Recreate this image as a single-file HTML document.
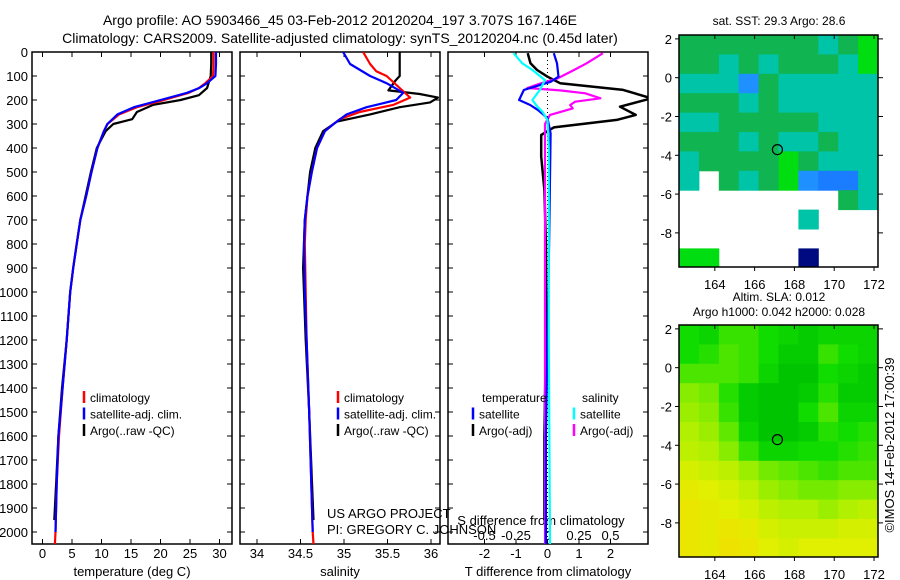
<!DOCTYPE html>
<html><head><meta charset="utf-8">
<style>
html,body{margin:0;padding:0;background:#fff;}
svg{display:block;font-family:"Liberation Sans",sans-serif;}
text{fill:#000;}
</style></head>
<body>
<svg id="fig" width="900" height="580" viewBox="0 0 900 580" xmlns="http://www.w3.org/2000/svg">
<defs>
<clipPath id="c1"><rect x="32" y="52" width="200" height="492"/></clipPath>
<clipPath id="c2"><rect x="240" y="52" width="200" height="492"/></clipPath>
<clipPath id="c3"><rect x="448" y="52" width="200" height="492"/></clipPath>
<clipPath id="cm1"><rect x="679" y="35" width="199" height="232"/></clipPath>
<clipPath id="cm2"><rect x="679" y="325" width="199" height="232"/></clipPath>
</defs>
<text x="340" y="25" font-size="14" text-anchor="middle">Argo profile: AO 5903466_45 03-Feb-2012 20120204_197 3.707S 167.146E</text>
<text x="340" y="43" font-size="14" text-anchor="middle">Climatology: CARS2009. Satellite-adjusted climatology: synTS_20120204.nc (0.45d later)</text>
<g id="layer"></g>
</svg>
<script>
// ---- profile data ----
const depthTClim = [0,50,100,130,150,170,200,230,260,300,330,400,500,600,700,800,900,1000,1200,1400,1600,1800,2000,2050];
const tempClim   = [29.0,29.0,28.9,27.6,26.5,24.8,20.6,16.0,13.0,11.0,10.4,9.3,8.3,7.4,6.4,5.8,5.2,4.7,4.1,3.4,2.8,2.4,2.2,2.1];
const depthTSat  = [0,50,100,130,150,170,200,230,260,300,330,400,500,600,700,800,900,1000,1200,1400,1600,1800,2000];
const tempSat    = [29.4,29.4,29.3,27.9,26.6,24.5,20.0,15.5,12.7,11.0,10.4,9.3,8.3,7.4,6.4,5.8,5.2,4.7,4.1,3.4,2.7,2.4,2.2];
const depthTArgo = [0,50,100,150,180,200,220,250,280,300,330,400,500,600,700,800,900,1000,1200,1400,1600,1800,1950];
const tempArgo   = [28.6,28.6,28.5,27.9,26.5,23.4,18.8,16.0,15.2,12.0,10.7,9.2,8.2,7.3,6.4,5.8,5.2,4.7,4.1,3.3,2.7,2.3,2.0];

const depthSClim = [0,50,80,100,150,190,220,250,280,300,330,400,500,600,700,800,1000,1200,1500,2000,2050];
const salClim    = [35.22,35.30,35.37,35.49,35.64,35.76,35.57,35.18,34.95,34.88,34.78,34.69,34.63,34.58,34.56,34.55,34.56,34.57,34.60,34.64,34.65];
const depthSSat  = [0,50,100,130,170,200,230,260,300,330,400,500,600,700,800,1000,1200,1500,2000];
const salSat     = [34.99,35.07,35.30,35.49,35.68,35.60,35.26,35.03,34.88,34.78,34.69,34.63,34.58,34.55,34.54,34.55,34.57,34.60,34.64];
const depthSArgo = [0,100,120,160,175,190,210,230,260,290,330,400,500,700,900,1200,1500,1950];
const salArgo    = [35.64,35.64,35.59,35.51,35.87,36.08,35.99,35.64,35.30,34.92,34.76,34.67,34.61,34.55,34.53,34.56,34.60,34.65];

const depthDTArgo = [5,47,75,103,130,158,193,228,262,283,314,346,436,575,800,1200,1600,1950];
const dTArgo      = [-0.63,-0.54,-0.33,0,0.4,2.4,3.3,2.3,2.8,2.2,0.2,-0.2,-0.2,-0.1,-0.05,-0.05,-0.1,-0.1];
const depthDTSat  = [5,47,103,124,158,200,221,242,276,339,800,1200,1600,2050];
const dTSat       = [0.2,0.3,0.35,0.1,-0.75,-0.9,-0.55,-0.3,0,0.1,0.05,0,-0.05,-0.05];
const depthDSArgo = [5,47,75,110,130,150,160,172,193,207,221,235,262,300,400,800,1200,2050];
const dSArgo      = [0.44,0.31,0.21,0.08,-0.05,-0.16,0.1,0.3,0.42,0.22,0.18,0.2,0.02,-0.02,-0.02,-0.02,-0.02,-0.02];
const depthDSSat  = [5,47,75,117,158,200,228,249,283,400,800,1200,2050];
const dSSat       = [-0.27,-0.2,-0.12,-0.02,-0.06,-0.12,-0.08,-0.04,0,0.01,0.01,0.01,0.02];

const depthTicks = [0,100,200,300,400,500,600,700,800,900,1000,1100,1200,1300,1400,1500,1600,1700,1800,1900,2000];
const tempTicks = [0,5,10,15,20,25,30];
const salTicks = [34,34.5,35,35.5,36];
const dTTicks = [-2,-1,0,1,2];
const dSTicks = [-0.5,-0.25,0,0.25,0.5];

// ---- map data ----
const lonTicks = [164,166,168,170,172];
const latTicks = [2,0,-2,-4,-6,-8];
const sstRows = [
 "3333333234","3323233324","2221322222","3332322222","2233333222",
 "3332322322","2333343222","2.32341002","........32","......2...","..........","44....5..."];
const sstColors = {"0":"#1a7cff","1":"#1e90ff","2":"#00c4a8","3":"#10b450","4":"#00dd10","5":"#000a80"};
const slaRows = [
 [0.15,0.1,0.25,0.25,0.15,0.1,0.05,0.1,0.1,0.1],
 [0.15,0.2,0.3,0.25,0.15,0.05,0.05,0.25,0.15,0.1],
 [0.3,0.3,0.3,0.25,0.1,0.0,0.0,0.15,0.1,0.05],
 [0.45,0.4,0.2,0.05,0.0,0.0,0.05,0.2,0.05,0.05],
 [0.5,0.45,0.25,0.05,0.0,0.0,0.15,0.3,0.1,0.1],
 [0.55,0.5,0.35,0.1,0.0,0.0,0.05,0.2,0.15,0.2],
 [0.6,0.55,0.45,0.25,0.1,0.1,0.15,0.15,0.2,0.25],
 [0.7,0.65,0.6,0.5,0.4,0.35,0.3,0.25,0.3,0.3],
 [0.8,0.75,0.7,0.6,0.5,0.45,0.4,0.4,0.45,0.45],
 [0.85,0.8,0.75,0.7,0.6,0.55,0.55,0.5,0.55,0.6],
 [0.85,0.8,0.85,0.8,0.7,0.65,0.65,0.65,0.7,0.7],
 [0.85,0.8,0.9,0.85,0.75,0.7,0.75,0.75,0.75,0.75]];
const argoLon = 167.146, argoLat = -3.707;

const NS="http://www.w3.org/2000/svg";
const layer=document.getElementById('layer');
function mk(tag,attrs,parent){const e=document.createElementNS(NS,tag);for(const k in attrs)e.setAttribute(k,attrs[k]);(parent||layer).appendChild(e);return e;}
function txt(s,x,y,size,anchor,parent){const t=mk('text',{x:x,y:y,'font-size':size,'text-anchor':anchor||'middle'},parent);t.textContent=s;return t;}

const yD = d => 52 + d*0.24;
const panels = [
 {x0:32,x1:232,clip:'c1',xs:v=>42.5+v*5.9,ticks:tempTicks,label:'temperature (deg C)',name:'temperature-panel'},
 {x0:240,x1:440,clip:'c2',xs:v=>257+(v-34)*87,ticks:salTicks,label:'salinity',name:'salinity-panel'},
 {x0:448,x1:648,clip:'c3',xs:v=>547.5+v*31.5,ticks:dTTicks,label:'T difference from climatology',name:'difference-panel'}
];
const xsS = v=>547.5+v*126;

panels.forEach((p,pi)=>{
  const g=mk('g',{});
  
  
  const fr=mk('rect',{x:p.x0,y:52,width:p.x1-p.x0,height:492,fill:'none',stroke:'#000','stroke-width':1.5},g);
  
  
  depthTicks.forEach(d=>{
    mk('line',{x1:p.x0,x2:p.x0+5,y1:yD(d),y2:yD(d),stroke:'#000'},g);
    mk('line',{x1:p.x1-5,x2:p.x1,y1:yD(d),y2:yD(d),stroke:'#000'},g);
    if(pi===0){const t=txt(String(d),28,yD(d)+5,13,'end',g);
      
      }
  });
  p.ticks.forEach(v=>{
    const x=p.xs(v);
    mk('line',{x1:x,x2:x,y1:544,y2:539,stroke:'#000'},g);
    mk('line',{x1:x,x2:x,y1:52,y2:57,stroke:'#000'},g);
    const t=txt(String(v),x,558,13,'middle',g);
    
    
  });
  const xl=txt(p.label,(p.x0+p.x1)/2,576,13,'middle',g);
  
  
});
dSTicks.forEach(v=>{
  const t=txt(String(v),xsS(v),540,13,'middle');
  
  
});
const sl=txt('S difference from climatology',541,525,13,'middle');


const zl=mk('line',{x1:547.5,x2:547.5,y1:52,y2:544,stroke:'#000','stroke-dasharray':'1,3'});



function series(depths,vals,xs,color,clip,name,w){
  const pts=depths.map((d,i)=>xs(vals[i]).toFixed(1)+','+yD(d).toFixed(1)).join(' ');
  const pl=mk('polyline',{points:pts,fill:'none',stroke:color,'stroke-width':w||2.2,'clip-path':'url(#'+clip+')','stroke-linejoin':'round'});
  
  
}
series(depthTArgo,tempArgo,panels[0].xs,'#000','c1','temp-argo-line');
series(depthTClim,tempClim,panels[0].xs,'#f00','c1','temp-climatology-line');
series(depthTSat,tempSat,panels[0].xs,'#00f','c1','temp-satellite-line');
series(depthSArgo,salArgo,panels[1].xs,'#000','c2','sal-argo-line');
series(depthSClim,salClim,panels[1].xs,'#f00','c2','sal-climatology-line');
series(depthSSat,salSat,panels[1].xs,'#00f','c2','sal-satellite-line');
series(depthDTArgo,dTArgo,panels[2].xs,'#000','c3','dT-argo-line',2.5);
series(depthDSArgo,dSArgo,xsS,'#f0f','c3','dS-argo-line');
series(depthDTSat,dTSat,panels[2].xs,'#00f','c3','dT-satellite-line');
series(depthDSSat,dSSat,xsS,'#0ff','c3','dS-satellite-line');

function legendEntry(x,y,color,label,name){
  const g=mk('g',{});
  
  
  mk('line',{x1:x,x2:x,y1:y-11,y2:y+1,stroke:color,'stroke-width':2.5},g);
  txt(label,x+6,y,12,'start',g);
}
[[84,'#f00','climatology'],[84,'#00f','satellite-adj. clim.'],[84,'#000','Argo(..raw -QC)']].forEach((e,i)=>legendEntry(e[0],402+i*16.5,e[1],e[2],'legend-temp-'+i));
[[338,'#f00','climatology'],[338,'#00f','satellite-adj. clim.'],[338,'#000','Argo(..raw -QC)']].forEach((e,i)=>legendEntry(e[0],402+i*16.5,e[1],e[2],'legend-sal-'+i));
txt('temperature',482,402,12,'start');
txt('salinity',582,402,12,'start');
legendEntry(473,418.5,'#00f','satellite','legend-diff-t-sat');
legendEntry(473,435,'#000','Argo(-adj)','legend-diff-t-argo');
legendEntry(574,418.5,'#0ff','satellite','legend-diff-s-sat');
legendEntry(574,435,'#f0f','Argo(-adj)','legend-diff-s-argo');
const pr1=txt('US ARGO PROJECT',327,518,13,'start');


const pr2=txt('PI: GREGORY C. JOHNSON',327,534,13,'start');



// ---- maps ----
const lonX = lon => 679 + (lon-162.2)*19.9;
function mapFrame(top,title1,title2,name,clip,fillFn){
  const g=mk('g',{});
  
  
  const latY = lat => top + (2.2-lat)*19.4;
  fillFn(g,latY);
  mk('rect',{x:679,y:top,width:199,height:232,fill:'none',stroke:'#000','stroke-width':1.5},g);
  lonTicks.forEach(l=>{
    const x=lonX(l);
    mk('line',{x1:x,x2:x,y1:top,y2:top+4,stroke:'#000'},g);
    mk('line',{x1:x,x2:x,y1:top+232,y2:top+236,stroke:'#000'},g);
    const t=txt(String(l),x,top+254,13,'middle',g);
    
    
  });
  latTicks.forEach(l=>{
    const y=latY(l);
    mk('line',{x1:878,x2:883,y1:y,y2:y,stroke:'#000'},g);
    mk('line',{x1:675,x2:679,y1:y,y2:y,stroke:'#000'},g);
    const t=txt(String(l),672,y+5,13,'end',g);
    
    
  });
  const c=mk('circle',{cx:lonX(argoLon),cy:latY(argoLat),r:5,fill:'none',stroke:'#000','stroke-width':1.2},g);
  
  
  if(title2){txt(title1,779,top-24,12,'middle',g);txt(title2,779,top-9,12,'middle',g);}
  else txt(title1,779,top-10,12,'middle',g);
}
mapFrame(35,'sat. SST: 29.3 Argo: 28.6',null,'sst-map','cm1',(g,latY)=>{
  sstRows.forEach((row,r)=>{
    for(let c=0;c<row.length;c++){
      const ch=row[c]; if(ch==='.')continue;
      const x=lonX(162.2+c), y=latY(2.2-r);
      const cell=mk('rect',{x:x,y:y,width:lonX(163.2+c)-x+0.5,height:latY(1.2-r)-y+0.5,fill:sstColors[ch],'clip-path':'url(#cm1)'},g);
      
      
    }
  });
});
const stops=[[0,[0,196,0]],[0.15,[16,220,0]],[0.35,[96,232,0]],[0.55,[176,240,0]],[0.75,[224,240,0]],[1,[248,216,0]]];
function slaColor(v){
  for(let i=1;i<stops.length;i++){ if(v<=stops[i][0]){const a=stops[i-1],b=stops[i],t=(v-a[0])/(b[0]-a[0]);
    return 'rgb('+a[1].map((c,k)=>Math.round(c+(b[1][k]-c)*t)).join(',')+')';}}
  return 'rgb(248,216,0)';
}
mapFrame(325,'Altim. SLA: 0.012','Argo h1000: 0.042 h2000: 0.028','sla-map','cm2',(g,latY)=>{
  slaRows.forEach((row,r)=>{
    row.forEach((v,c)=>{
      const x=lonX(162.2+c), y=latY(2.2-r);
      const cell=mk('rect',{x:x,y:y,width:lonX(163.2+c)-x+0.5,height:latY(1.2-r)-y+0.5,fill:slaColor(v),'clip-path':'url(#cm2)'},g);
      
      
    });
  });
});
const stamp=txt('©IMOS 14-Feb-2012 17:00:39',0,0,13,'middle');
stamp.setAttribute('transform','translate(894,445) rotate(-90)');


</script>
</body></html>
